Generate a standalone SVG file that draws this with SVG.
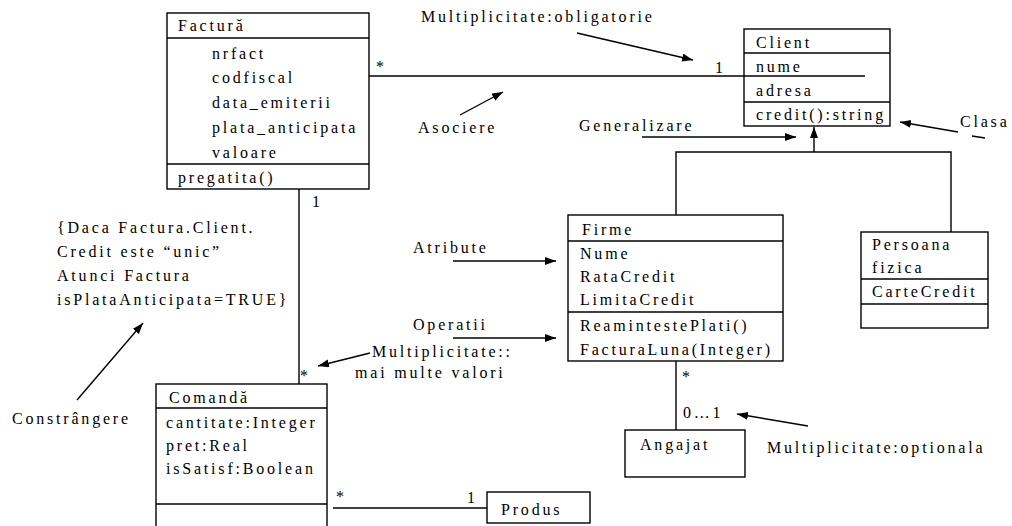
<svg xmlns="http://www.w3.org/2000/svg" width="1012" height="526" viewBox="0 0 1012 526">
<style>
text{font-family:"Liberation Serif","DejaVu Serif",serif;font-size:16px;letter-spacing:2.8px;fill:#000}
.box{fill:#fff;stroke:#000;stroke-width:1.4}
.ln{fill:none;stroke:#000;stroke-width:1.4}
.ar{fill:none;stroke:#000;stroke-width:1.4;marker-end:url(#ah)}
</style>
<defs>
<marker id="ah" markerWidth="12" markerHeight="10" refX="11" refY="4" orient="auto" markerUnits="userSpaceOnUse">
<path d="M0,0 L11,4 L0,8 z" fill="#000"/>
</marker>
</defs>
<rect width="1012" height="526" fill="#fff"/>

<g id="connectors">
<line class="ln" x1="369" y1="76" x2="865" y2="76"/>
<line class="ln" x1="299" y1="189" x2="299" y2="384"/>
<line class="ln" x1="333" y1="508" x2="487" y2="508"/>
<line class="ln" x1="676" y1="361" x2="676" y2="430"/>
<polyline class="ln" points="676,215 676,152 951,152 951,232"/>
<line class="ar" x1="814" y1="152" x2="814" y2="127"/>
</g>

<g id="annotations">
<text x="421" y="22">Multiplicitate:obligatorie</text>
<line class="ar" x1="577" y1="33" x2="693" y2="60"/>
<text x="418" y="133">Asociere</text>
<line class="ar" x1="460" y1="115" x2="503" y2="92"/>
<text x="579" y="131">Generalizare</text>
<line class="ar" x1="642" y1="137" x2="796" y2="137"/>
<text x="960" y="127">Clasa</text>
<line class="ln" x1="972" y1="136" x2="985" y2="138"/>
<line class="ar" x1="958" y1="132" x2="900" y2="122"/>
<text x="413" y="253">Atribute</text>
<line class="ar" x1="453" y1="261" x2="556" y2="261"/>
<text x="413" y="330">Operatii</text>
<line class="ar" x1="453" y1="338" x2="556" y2="338"/>
<text x="372" y="357">Multiplicitate::</text>
<text x="355" y="378">mai multe valori</text>
<line class="ar" x1="370" y1="353" x2="318" y2="366"/>
<text x="57" y="233">{Daca Factura.Client.</text>
<text x="57" y="257">Credit este “unic”</text>
<text x="57" y="281">Atunci Factura</text>
<text x="57" y="305">isPlataAnticipata=TRUE}</text>
<text x="12" y="424">Constrângere</text>
<line class="ar" x1="77" y1="400" x2="143" y2="323"/>
<text x="767" y="453">Multiplicitate:optionala</text>
<line class="ar" x1="808" y1="426" x2="737" y2="414"/>
</g>

<g id="multiplicities">
<text x="376" y="72">*</text>
<text x="715" y="73">1</text>
<text x="312" y="207">1</text>
<text x="300" y="381">*</text>
<text x="682" y="382">*</text>
<text x="683" y="418">0…1</text>
<text x="336" y="502">*</text>
<text x="467" y="503">1</text>
</g>

<g id="factura">
<rect class="box" x="167" y="13" width="202" height="176"/>
<line class="ln" x1="167" y1="38" x2="369" y2="38"/>
<line class="ln" x1="167" y1="164" x2="369" y2="164"/>
<text x="178" y="31">Factură</text>
<text x="212" y="59">nrfact</text>
<text x="212" y="83">codfiscal</text>
<text x="212" y="108">data_emiterii</text>
<text x="212" y="133">plata_anticipata</text>
<text x="212" y="158">valoare</text>
<text x="178" y="183">pregatita()</text>
</g>

<g id="client">
<rect class="box" x="744" y="29" width="146" height="97"/>
<line class="ln" x1="744" y1="53" x2="890" y2="53"/>
<line class="ln" x1="744" y1="102" x2="890" y2="102"/>
<line class="ln" x1="744" y1="76" x2="865" y2="76"/>
<text x="756" y="48">Client</text>
<text x="756" y="72">nume</text>
<text x="756" y="96">adresa</text>
<text x="756" y="120">credit():string</text>
</g>

<g id="firme">
<rect class="box" x="568" y="215" width="215" height="146"/>
<line class="ln" x1="568" y1="241" x2="783" y2="241"/>
<line class="ln" x1="568" y1="312" x2="783" y2="312"/>
<text x="582" y="235">Firme</text>
<text x="580" y="259">Nume</text>
<text x="580" y="282">RataCredit</text>
<text x="580" y="305">LimitaCredit</text>
<text x="580" y="331">ReamintestePlati()</text>
<text x="580" y="355">FacturaLuna(Integer)</text>
</g>

<g id="persoana">
<rect class="box" x="861" y="232" width="127" height="96"/>
<line class="ln" x1="861" y1="279" x2="988" y2="279"/>
<line class="ln" x1="861" y1="304" x2="988" y2="304"/>
<text x="872" y="250">Persoana</text>
<text x="872" y="273">fizica</text>
<text x="872" y="297">CarteCredit</text>
</g>

<g id="comanda">
<rect class="box" x="156" y="384" width="171" height="150"/>
<line class="ln" x1="156" y1="408" x2="327" y2="408"/>
<line class="ln" x1="156" y1="504" x2="327" y2="504"/>
<text x="169" y="403">Comandă</text>
<text x="166" y="428">cantitate:Integer</text>
<text x="166" y="451">pret:Real</text>
<text x="166" y="474">isSatisf:Boolean</text>
</g>

<g id="angajat">
<rect class="box" x="625" y="430" width="120" height="47"/>
<text x="640" y="450">Angajat</text>
</g>

<g id="produs">
<rect class="box" x="487" y="492" width="103" height="31"/>
<text x="501" y="515">Produs</text>
</g>
</svg>
